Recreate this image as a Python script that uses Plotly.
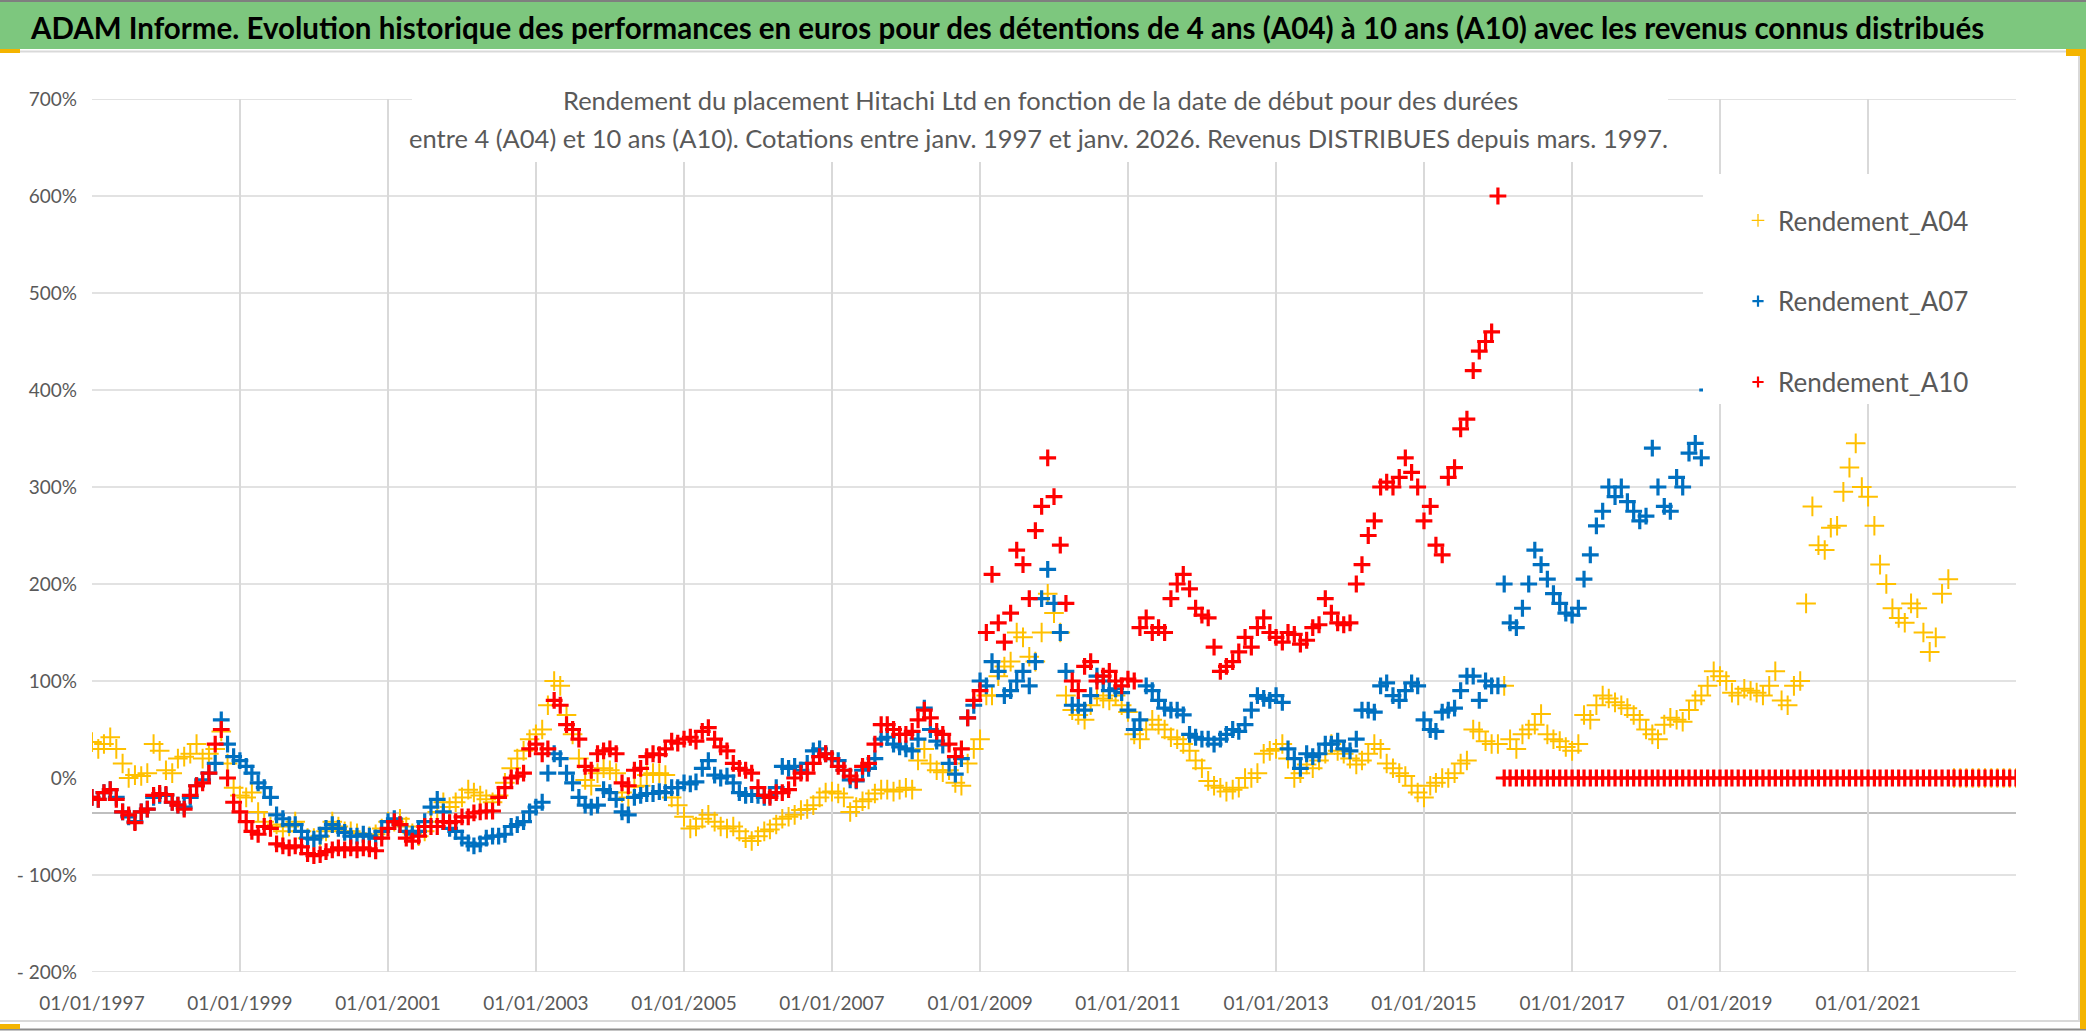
import pandas as pd
import plotly.graph_objects as go

# ---------------- DATA (monthly readings, % ) ----------------
a04_start = "1997-01-01"
a04_values = [
    37, 30, 35, 42, 30, 15, 0, 3, 2, 5, 35, 28,            # 1997
    8, 5, 20, 22, 25, 35, 20, 25, 30, 48, 15, -10,         # 1998
    -18, -20, -15, -35, -45, -50, -48, -55, -50, -45, -55, -62,  # 1999
    -62, -60, -55, -45, -50, -55, -55, -57, -60, -60, -58, -52,  # 2000
    -45, -45, -42, -50, -57, -60, -55, -45, -35, -25, -30, -25,  # 2001
    -20, -12, -15, -18, -22, -25, -18, -5, 10, 20, 28, 40,       # 2002
    45, 50, 75, 100, 95, 65, 45, 20, -2, -8, 5, 10,              # 2003
    8, 5, -15, -20, -9, -8, 3, 5, 5, 3, -20, -28,                # 2004
    -40, -52, -50, -42, -38, -45, -50, -52, -50, -55, -62, -65,  # 2005
    -60, -55, -53, -48, -42, -40, -38, -33, -32, -28, -20, -15,  # 2006
    -14, -16, -20, -35, -30, -24, -22, -16, -12, -12, -14, -12,  # 2007
    -10, -12, 18, 30, 15, 8, 6, 8, -5, -8, 15, 30,               # 2008
    40, 85, 85, 105, 115, 120, 150, 145, 125, 120, 150, 190,     # 2009
    170, 150, 85, 70, 65, 60, 75, 85, 82, 80, 85, 75,            # 2010
    68, 45, 40, 50, 60, 55, 50, 42, 40, 35, 28, 18,              # 2011
    10, -3, -8, -10, -14, -12, -10, 0, 0, 5, 25, 28,             # 2012
    30, 35, 20, 0, 5, 14, 10, 18, 25, 35, 28, 25,                # 2013
    20, 14, 18, 25, 35, 30, 15, 10, 5, 2, -8, -15,               # 2014
    -20, -8, -5, 0, 0, 5, 15, 18, 50, 48, 38, 35,                # 2015
    35, 95, 40, 30, 45, 50, 55, 66, 45, 40, 38, 32,              # 2016
    28, 35, 65, 60, 75, 85, 82, 78, 75, 72, 65, 60,              # 2017
    50, 45, 40, 55, 62, 60, 58, 70, 80, 85, 95, 110,             # 2018
    105, 100, 88, 85, 92, 90, 88, 85, 95, 110, 80, 75,           # 2019
    95, 100, 180, 280, 240, 235, 258, 260, 295, 320, 345, 300,   # 2020
    290, 260, 220, 200, 175, 165, 160, 180, 175, 150, 130, 145,  # 2021
    190, 205,                                                    # 2022
    0, 0, 0, 0, 0, 0, 0, 0, 0, 0, 0,                             # 2022-03 .. 2023-01
]

a07_start = "1997-01-01"
a07_values = [
    -20, -22, -15, -12, -20, -35, -40, -45, -35, -32, -20, -18,  # 1997
    -18, -25, -28, -30, -20, -8, -2, 5, 15, 60, 35, 22,          # 1998
    18, 12, 5, -5, -10, -20, -38, -42, -48, -48, -55, -62,       # 1999
    -63, -60, -52, -48, -52, -56, -60, -60, -58, -60, -62, -55,  # 2000
    -45, -42, -48, -55, -58, -55, -45, -30, -22, -35, -52, -55,  # 2001
    -62, -67, -70, -68, -62, -60, -60, -58, -50, -48, -45, -35,  # 2002
    -30, -25, 5, 25, 20, 5, -5, -20, -28, -30, -28, -12,         # 2003
    -15, -22, -35, -38, -20, -18, -16, -16, -14, -15, -10, -10,  # 2004
    -5, -6, -4, 10, 18, 3, 0, 2, -5, -15, -18, -17,              # 2005
    -18, -20, -18, -10, 12, 10, 12, 8, 15, 28, 30, 25,           # 2006
    20, 18, 8, -2, -3, 8, 10, 20, 40, 42, 35, 32,                # 2007
    30, 28, 40, 72, 50, 38, 34, 15, 4, 20, 62, 75,               # 2008
    100, 95, 120, 110, 85, 90, 100, 110, 95, 120, 185, 215,      # 2009
    180, 150, 110, 75, 75, 70, 85, 105, 100, 90, 92, 88,         # 2010
    70, 50, 60, 95, 90, 80, 72, 70, 70, 65, 45, 42,              # 2011
    40, 40, 35, 40, 45, 50, 48, 55, 70, 85, 82, 80,              # 2012
    85, 78, 30, 20, 10, 25, 22, 25, 35, 35, 38, 30,              # 2013
    28, 40, 70, 70, 68, 95, 98, 85, 80, 90, 98, 95,              # 2014
    60, 50, 48, 68, 70, 72, 90, 105, 105, 80, 100, 95,           # 2015
    95, 200, 160, 155, 175, 200, 235, 220, 205, 190, 180, 170,   # 2016
    168, 175, 205, 230, 260, 275, 300, 290, 300, 285, 275, 265,  # 2017
    270, 340, 300, 280, 275, 310, 300, 335, 345, 330, 400, 425,  # 2018
]

a10_start = "1997-01-01"
a10_values = [
    -20, -22, -15, -12, -22, -35, -38, -46, -35, -32, -18, -16,  # 1997
    -17, -25, -28, -32, -18, -8, -5, 5, 35, 50, 0, -25,          # 1998
    -35, -45, -55, -58, -50, -52, -68, -70, -72, -70, -71, -78,  # 1999
    -80, -79, -76, -74, -72, -74, -72, -74, -72, -73, -75, -62,  # 2000
    -52, -45, -48, -62, -65, -60, -50, -50, -50, -45, -46, -45,  # 2001
    -40, -40, -36, -35, -34, -34, -20, -10, 0, 2, 5, 30,         # 2002
    35, 25, 30, 80, 75, 55, 50, 40, 12, 8, 25, 28,               # 2003
    30, 25, -5, -8, 8, 10, 22, 25, 24, 30, 38, 36,               # 2004
    40, 42, 38, 48, 52, 40, 32, 28, 15, 10, 8, 5,                # 2005
    -10, -18, -20, -15, -15, -12, 0, 5, 5, 15, 22, 25,           # 2006
    20, 12, 8, 2, -2, 12, 15, 35, 55, 55, 50, 45,                # 2007
    45, 48, 60, 70, 62, 48, 45, 35, 22, 30, 62, 80,              # 2008
    90, 150, 210, 160, 140, 170, 235, 220, 185, 255, 280, 330,   # 2009
    290, 240, 180, 100, 90, 115, 120, 100, 105, 110, 100, 95,    # 2010
    102, 100, 155, 165, 150, 155, 150, 185, 200, 210, 195, 175,  # 2011
    168, 165, 135, 110, 115, 120, 130, 145, 135, 155, 165, 150,  # 2012
    145, 140, 150, 148, 138, 142, 155, 158, 185, 170, 160, 158,  # 2013
    160, 200, 220, 250, 265, 300, 305, 300, 310, 330, 315, 300,  # 2014
    265, 280, 240, 230, 310, 320, 360, 370, 420, 440, 450, 460,  # 2015
    600,                                                         # 2016-01
    0, 0, 0, 0, 0, 0, 0, 0, 0, 0, 0,                             # 2016-02 .. 2016-12
    0, 0, 0, 0, 0, 0, 0, 0, 0, 0, 0, 0,                          # 2017
    0, 0, 0, 0, 0, 0, 0, 0, 0, 0, 0, 0,                          # 2018
    0, 0, 0, 0, 0, 0, 0, 0, 0, 0, 0, 0,                          # 2019
    0, 0, 0, 0, 0, 0, 0, 0, 0, 0, 0, 0,                          # 2020
    0, 0, 0, 0, 0, 0, 0, 0, 0, 0, 0, 0,                          # 2021
    0, 0, 0, 0, 0, 0, 0, 0, 0, 0, 0, 0,                          # 2022
    0,                                                           # 2023-01
]

series_names = ["Rendement_A04", "Rendement_A07", "Rendement_A10"]
series_colors = ["#FFC000", "#0070C0", "#FF0000"]

x_tick_dates = ["1997-01-01", "1999-01-01", "2001-01-01", "2003-01-01", "2005-01-01",
                "2007-01-01", "2009-01-01", "2011-01-01", "2013-01-01", "2015-01-01",
                "2017-01-01", "2019-01-01", "2021-01-01"]
x_tick_labels = ["01/01/1997", "01/01/1999", "01/01/2001", "01/01/2003", "01/01/2005",
                 "01/01/2007", "01/01/2009", "01/01/2011", "01/01/2013", "01/01/2015",
                 "01/01/2017", "01/01/2019", "01/01/2021"]
y_tick_values = [-200, -100, 0, 100, 200, 300, 400, 500, 600, 700]
y_tick_labels = ["- 200%", "- 100%", "0%", "100%", "200%", "300%", "400%", "500%", "600%", "700%"]
y_gridlines = [-200, -100, 100, 200, 300, 400, 500, 600, 700]
axis_cross_value = -36

title_text = ("<b>ADAM Informe. Evolution historique des performances en euros pour des détentions "
              "de 4 ans (A04) à 10 ans (A10) avec les revenus connus distribués</b>")
subtitle_1 = "Rendement du placement Hitachi Ltd en fonction de la date de début pour des durées"
subtitle_2 = ("entre 4 (A04) et 10 ans (A10). Cotations entre janv. 1997 et janv. 2026. "
              "Revenus DISTRIBUES depuis mars. 1997.")

# ---------------- LAYOUT GEOMETRY ----------------
FIG_W, FIG_H = 2086, 1031
ML, MR, MT, MB = 92, 70, 99, 59
PW = FIG_W - ML - MR
PH = FIG_H - MT - MB


def px(X):
    return (X - ML) / PW


def py(Y):
    return (FIG_H - MB - Y) / PH


FONT = "Lato, Carlito, 'Open Sans', sans-serif"
GREY = "#595959"
GRID = "#D9D9D9"

fig = go.Figure()

all_series = [(a04_start, a04_values), (a07_start, a07_values), (a10_start, a10_values)]
marker_sizes = [14, 12, 12]
marker_widths = [2.0, 3.2, 3.2]
for i, (start, vals) in enumerate(all_series):
    dates = pd.date_range(start=start, periods=len(vals), freq="MS")
    fig.add_trace(go.Scatter(
        x=dates, y=vals, mode="markers", name=series_names[i],
        legendgroup=series_names[i], showlegend=False,
        marker=dict(symbol="cross-thin", size=marker_sizes[i],
                    color=series_colors[i],
                    line=dict(color=series_colors[i], width=marker_widths[i])),
    ))

# legend entries with the small "+" symbols of the reference
legend_sizes = [9, 8, 8]
legend_widths = [1.3, 2.2, 2.2]
for i in range(3):
    fig.add_trace(go.Scatter(
        x=[None], y=[None], mode="markers", name=series_names[i],
        legendgroup=series_names[i], showlegend=True,
        marker=dict(symbol="cross-thin", size=legend_sizes[i], color=series_colors[i],
                    line=dict(color=series_colors[i], width=legend_widths[i])),
    ))

shapes = []
# horizontal gridlines (no line at 0 %)
for v in y_gridlines:
    shapes.append(dict(type="line", xref="paper", yref="y", x0=0, x1=1, y0=v, y1=v,
                       line=dict(color=GRID, width=1.6), layer="below"))
# horizontal axis line crossing the value axis
shapes.append(dict(type="line", xref="paper", yref="y", x0=0, x1=1,
                   y0=axis_cross_value, y1=axis_cross_value,
                   line=dict(color="#BFBFBF", width=2), layer="below"))
# green banner
shapes.append(dict(type="rect", xref="paper", yref="paper", x0=px(0), x1=px(FIG_W),
                   y0=py(49), y1=py(0), fillcolor="#7DC77E", line=dict(width=0), layer="above"))
shapes.append(dict(type="line", xref="paper", yref="paper", x0=px(0), x1=px(FIG_W),
                   y0=py(1), y1=py(1), line=dict(color="#7F7F7F", width=2), layer="above"))
shapes.append(dict(type="line", xref="paper", yref="paper", x0=px(0), x1=px(FIG_W),
                   y0=py(51.5), y1=py(51.5), line=dict(color="#D9D9D9", width=2), layer="above"))
# chart-area border
shapes.append(dict(type="line", xref="paper", yref="paper", x0=px(2079), x1=px(2079),
                   y0=py(52), y1=py(1022), line=dict(color="#D9D9D9", width=2), layer="above"))
shapes.append(dict(type="line", xref="paper", yref="paper", x0=px(0), x1=px(2079),
                   y0=py(1021), y1=py(1021), line=dict(color="#D9D9D9", width=2), layer="above"))
shapes.append(dict(type="line", xref="paper", yref="paper", x0=px(0), x1=px(FIG_W),
                   y0=py(1029.5), y1=py(1029.5), line=dict(color="#8C8C8C", width=2), layer="above"))
# selection handles
for (x0, x1, y0, y1) in [(0, 20, 49, 53), (2066, 2086, 49, 56), (0, 20, 1024, 1029),
                         (2080, 2086, 52, 1029)]:
    shapes.append(dict(type="rect", xref="paper", yref="paper", x0=px(x0), x1=px(x1),
                       y0=py(y1), y1=py(y0), fillcolor="#F4B400", line=dict(width=0),
                       layer="above"))
# white box behind chart title
shapes.append(dict(type="rect", xref="paper", yref="paper", x0=px(412), x1=px(1668),
                   y0=py(162), y1=py(78), fillcolor="white", line=dict(width=0), layer="above"))
# white box behind legend
shapes.append(dict(type="rect", xref="paper", yref="paper", x0=px(1703), x1=px(2017),
                   y0=py(404), y1=py(174), fillcolor="white", line=dict(width=0), layer="above"))

annotations = [
    dict(text=title_text, xref="paper", yref="paper", x=px(1007), y=py(27),
         xanchor="center", yanchor="middle", showarrow=False,
         font=dict(family=FONT, size=29.5, color="#000000")),
    dict(text=subtitle_1, xref="paper", yref="paper", x=px(1040), y=py(100),
         xanchor="center", yanchor="middle", showarrow=False,
         font=dict(family=FONT, size=25.5, color=GREY)),
    dict(text=subtitle_2, xref="paper", yref="paper", x=px(1038), y=py(138),
         xanchor="center", yanchor="middle", showarrow=False,
         font=dict(family=FONT, size=25.5, color=GREY)),
]

fig.update_layout(
    width=FIG_W, height=FIG_H,
    margin=dict(l=ML, r=MR, t=MT, b=MB, autoexpand=False),
    paper_bgcolor="white", plot_bgcolor="white",
    font=dict(family=FONT, color=GREY),
    shapes=shapes, annotations=annotations,
    showlegend=True,
    legend=dict(x=px(1738), y=py(197), xanchor="left", yanchor="top",
                bgcolor="rgba(0,0,0,0)", font=dict(family=FONT, size=26, color=GREY),
                tracegroupgap=44, itemsizing="trace"),
    xaxis=dict(type="date", range=["1997-01-01", "2023-01-01"],
               tickmode="array", tickvals=x_tick_dates, ticktext=x_tick_labels,
               showgrid=True, gridcolor=GRID, gridwidth=1.6,
               showline=False, zeroline=False, ticks="",
               tickfont=dict(family=FONT, size=19, color=GREY),
               ticklabelstandoff=18),
    yaxis=dict(range=[-200, 700], tickmode="array", tickvals=y_tick_values,
               ticktext=y_tick_labels, showgrid=False, zeroline=False, showline=False,
               ticks="", tickfont=dict(family=FONT, size=19, color=GREY),
               ticklabelstandoff=14),
)

fig.write_html(
    "out.html",
    config={"displayModeBar": False},
    post_script="document.body.style.margin='0';document.body.style.overflow='hidden';",
)
